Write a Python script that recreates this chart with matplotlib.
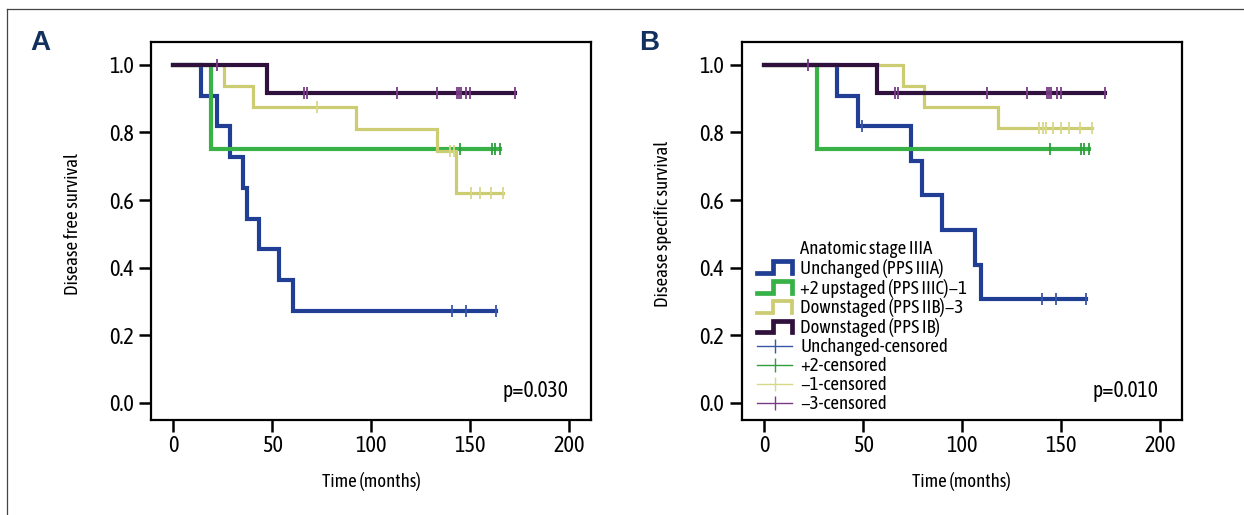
import numpy as np
import matplotlib
matplotlib.use("Agg")
import matplotlib.pyplot as plt
from matplotlib import font_manager
from matplotlib.lines import Line2D
from matplotlib.legend_handler import HandlerBase

installed = {f.name for f in font_manager.fontManager.ttflist}
narrow = [n for n in ['Asap Condensed', 'PT Sans Narrow', 'Archivo Narrow',
                      'Liberation Sans Narrow'] if n in installed]
plt.rcParams['font.family'] = narrow[:1] + ['DejaVu Sans']
bold_family = ['Liberation Sans', 'DejaVu Sans']

# Panel A - disease free survival (event times, step levels, censor times)
a_blue_t = [14, 22, 28.6, 35.4, 37.1, 43.3, 53.2, 60.3]
a_blue_s = [0.909, 0.818, 0.727, 0.636, 0.545, 0.455, 0.364, 0.273]
a_blue_c = [141, 148, 163]
a_green_t = [19]
a_green_s = [0.75]
a_green_c = [145, 161, 162.5, 165]
a_yellow_t = [25.6, 40.1, 92.1, 133.3, 142.8]
a_yellow_s = [0.9375, 0.875, 0.81, 0.745, 0.62]
a_yellow_c = [72.4, 139.7, 141.7, 150.5, 155, 160.5, 166.5]
a_purple_t = [47.5]
a_purple_s = [0.917]
a_purple_c = [22, 66, 67.4, 112.8, 133, 143.4, 144.3, 145.2, 147.8, 149.8, 172.6]

# Panel B - disease specific survival
b_blue_t = [36.6, 47.5, 74.1, 79.5, 89.6, 106.4, 109.8]
b_blue_s = [0.909, 0.818, 0.716, 0.614, 0.511, 0.409, 0.307]
b_blue_c = [49.2, 140.5, 147.5, 162.5]
b_green_t = [26.8]
b_green_s = [0.75]
b_green_c = [144.5, 160, 161.7, 164]
b_yellow_t = [69.9, 80.8, 117.9]
b_yellow_s = [0.9375, 0.875, 0.8125]
b_yellow_c = [139, 140.8, 142.5, 145.9, 150, 154, 159.5, 165.5]
b_purple_t = [56.8]
b_purple_s = [0.917]
b_purple_c = [22, 66, 67.4, 112.5, 133, 143, 144, 145, 148, 150, 172]

group_labels = ["Unchanged (PPS IIIA)", "+2 upstaged (PPS IIIC)\u22121",
                "Downstaged (PPS IIB)\u22123", "Downstaged (PPS IB)"]
censor_labels = ["Unchanged-censored", "+2-censored", "\u22121-censored", "\u22123-censored"]

line_colors = ["#1f3e94", "#38b247", "#cccc72", "#30103c"]
mark_colors = ["#3a56a8", "#2f9e3f", "#d8d88a", "#7a3a88"]
line_widths = [3.0, 3.0, 2.3, 3.0]


class StepHandler(HandlerBase):
    def create_artists(self, legend, orig_handle, xdescent, ydescent,
                       width, height, fontsize, trans):
        x0 = -xdescent
        y0 = -ydescent
        xs = [x0, x0 + 0.45 * width, x0 + 0.45 * width, x0 + width, x0 + width]
        ys = [y0, y0, y0 + height, y0 + height, y0]
        ln = Line2D(xs, ys, color=orig_handle.get_color(),
                    lw=orig_handle.get_linewidth(), solid_joinstyle='miter',
                    transform=trans)
        return [ln]


def draw_curve(ax, times, levels, censors, i):
    t = np.array([0] + times + [max(censors)])
    s = np.array([1.0] + levels + [levels[-1]])
    ax.step(t, s, where='post', color=line_colors[i], lw=line_widths[i],
            solid_joinstyle='miter', zorder=2 + i)
    idx = np.searchsorted(t[:-1], censors, side='right') - 1
    ax.plot(censors, s[idx], ls='none', marker='|', markersize=8,
            mew=1.3, color=mark_colors[i], zorder=2 + i)


def style_axes(ax, ylabel, ptext):
    ax.set_xlim(-11.3, 211)
    ax.set_ylim(-0.051, 1.067)
    ax.set_xticks([0, 50, 100, 150, 200])
    ax.set_yticks([0.0, 0.2, 0.4, 0.6, 0.8, 1.0])
    ax.set_yticklabels(["%.1f" % v for v in [0.0, 0.2, 0.4, 0.6, 0.8, 1.0]])
    for sp in ax.spines.values():
        sp.set_linewidth(1.6)
    ax.tick_params(axis='both', direction='out', length=8.5, width=1.8, labelsize=16)
    ax.tick_params(axis='y', pad=4)
    ax.tick_params(axis='x', pad=2)
    ax.set_xlabel("Time (months)", fontsize=13.5)
    ax.set_ylabel(ylabel, fontsize=13.5)
    ax.xaxis.set_label_coords(0.5, -0.137)
    ax.yaxis.set_label_coords(-0.158, 0.52)
    ax.text(199.5, 0.036, ptext, ha='right', va='center', fontsize=15.5)


fig = plt.figure(figsize=(12.44, 5.15), dpi=100)
ax_a = fig.add_axes([0.1214, 0.1845, 0.3537, 0.7334])
ax_b = fig.add_axes([0.5963, 0.1845, 0.3537, 0.7334])

panel_a = [(a_blue_t, a_blue_s, a_blue_c), (a_green_t, a_green_s, a_green_c),
           (a_yellow_t, a_yellow_s, a_yellow_c), (a_purple_t, a_purple_s, a_purple_c)]
panel_b = [(b_blue_t, b_blue_s, b_blue_c), (b_green_t, b_green_s, b_green_c),
           (b_yellow_t, b_yellow_s, b_yellow_c), (b_purple_t, b_purple_s, b_purple_c)]

for i, (t, s, c) in enumerate(panel_a):
    draw_curve(ax_a, t, s, c, i)
for i, (t, s, c) in enumerate(panel_b):
    draw_curve(ax_b, t, s, c, i)

style_axes(ax_a, "Disease free survival", "p=0.030")
style_axes(ax_b, "Disease specific survival", "p=0.010")

# Legend (panel B)
handles = [Line2D([], [], color='none')]
labels = ["Anatomic stage IIIA"]
for i in range(4):
    handles.append(Line2D([], [], color=line_colors[i], lw=line_widths[i] + 0.4))
    labels.append(group_labels[i])
for i in range(4):
    handles.append(Line2D([], [], color=mark_colors[i], lw=1.0, marker='|',
                          markersize=10, mew=1.0))
    labels.append(censor_labels[i])
hmap = {h: StepHandler() for h in handles[1:5]}
ax_b.legend(handles, labels, handler_map=hmap, loc='lower left',
            bbox_to_anchor=(0.034, 0.018), frameon=False, fontsize=13.5,
            borderpad=0, borderaxespad=0, handlelength=1.9, handleheight=0.55,
            handletextpad=0.42, labelspacing=0.05)

# Panel letters
fig.text(40.5 / 1244, 1 - 43 / 515, "A", ha='center', va='center',
         fontsize=20, fontweight='bold', color='#12305e', family=bold_family)
fig.text(649 / 1244, 1 - 43 / 515, "B", ha='center', va='center',
         fontsize=20, fontweight='bold', color='#12305e', family=bold_family)

# Outer frame (top and left edges)
fig.add_artist(Line2D([0.0054, 1.0], [0.982, 0.982], color='#444444', lw=0.9,
                      transform=fig.transFigure))
fig.add_artist(Line2D([0.0054, 0.0054], [0.0, 0.982], color='#444444', lw=0.9,
                      transform=fig.transFigure))

fig.savefig("out.png", dpi=100)
